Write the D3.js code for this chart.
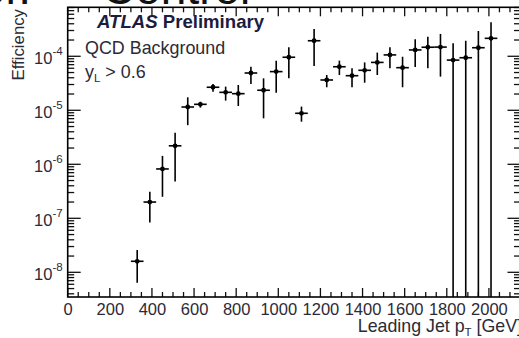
<!DOCTYPE html>
<html>
<head>
<meta charset="utf-8">
<script src="https://cdn.jsdelivr.net/npm/d3@7"></script>
<style>
  html, body { margin: 0; padding: 0; background: #fff; }
  svg { display: block; }
  text { font-family: "Liberation Sans", Arial, Helvetica, sans-serif; }
</style>
</head>
<body>
<svg id="chart" width="519" height="338"></svg>
<script>
// Leading-jet pT bin centres (GeV), 60 GeV wide bins
const ptCenters = [330, 390, 450, 510, 570, 630, 690, 750, 810, 870, 930, 990, 1050, 1110, 1170,
                   1230, 1290, 1350, 1410, 1470, 1530, 1590, 1650, 1710, 1770, 1830, 1890, 1950, 2010];
const binHalfWidth = 30;
// Efficiency per bin
const efficiency = [1.6e-8, 2.0e-7, 8.2e-7, 2.2e-6, 1.15e-5, 1.29e-5, 2.67e-5, 2.15e-5, 2.03e-5, 4.9e-5,
                    2.35e-5, 5.2e-5, 9.6e-5, 8.8e-6, 1.94e-4, 3.64e-5, 6.4e-5, 4.37e-5, 5.5e-5, 7.7e-5,
                    1.06e-4, 6.15e-5, 1.31e-4, 1.47e-4, 1.48e-4, 8.5e-5, 9.4e-5, 1.44e-4, 2.15e-4];
// Upper and lower edges of the error bars (0 = bar reaches down to zero)
const effHigh = [2.6e-8, 3.1e-7, 1.43e-6, 3.85e-6, 1.74e-5, 1.44e-5, 3.07e-5, 2.74e-5, 2.94e-5, 6.4e-5,
                 3.9e-5, 8.3e-5, 1.47e-4, 1.17e-5, 3.2e-4, 4.5e-5, 8.3e-5, 6.0e-5, 7.7e-5, 1.17e-4,
                 1.47e-4, 9.8e-5, 2.06e-4, 2.31e-4, 2.59e-4, 1.74e-4, 1.94e-4, 2.94e-4, 4.26e-4];
const effLow = [6.4e-9, 8.4e-8, 2.5e-7, 4.8e-7, 5.3e-6, 1.12e-5, 2.21e-5, 1.51e-5, 1.2e-5, 3.07e-5,
                7.1e-6, 2.12e-5, 3.9e-5, 6.15e-6, 6.6e-5, 2.67e-5, 4.5e-5, 2.67e-5, 3.24e-5, 4.5e-5,
                6.0e-5, 2.67e-5, 6.3e-5, 6.0e-5, 4.2e-5, 0, 0, 0, 0];

const xTicks = [0, 200, 400, 600, 800, 1000, 1200, 1400, 1600, 1800, 2000];
const yDecades = [-8, -7, -6, -5, -4];

const xDomain = [0, 2150];
const yDomain = [3.49e-9, 8.07e-4];

const svg = d3.select("#chart");
const frameLeft = 67.7, frameTop = 7.3, frameBottom = 297, frameRight = 520.5;

const x = d3.scaleLinear().domain(xDomain).range([frameLeft, frameRight]);
const y = d3.scaleLog().domain(yDomain).range([frameBottom, frameTop]).clamp(true);

const textColor = "#2c2a36";

// Heading above the frame, mostly outside the page
svg.append("text")
  .attr("y", 3.5)
  .attr("font-size", 46)
  .attr("fill", "#111")
  .call(t => {
    t.append("tspan").attr("x", -20).text("or.");
    t.append("tspan").attr("x", 102).text("Control");
  });

// Minor tick values
const xMinor = d3.range(0, 2151, 50).filter(v => v % 200 !== 0);
const yMinor = [];
for (let e = -9; e <= -4; e++) {
  for (let m = 2; m <= 9; m++) {
    const v = m * Math.pow(10, e);
    if (v >= yDomain[0] && v <= yDomain[1]) yMinor.push(v);
  }
}
const yMajor = yDecades.map(e => Math.pow(10, e));

const axes = svg.append("g").attr("stroke", "#111").attr("stroke-width", 1.3);

// Bottom and top ticks (pointing inward)
function xTickMarks(vals, len) {
  axes.selectAll(null).data(vals).join("line")
    .attr("x1", d => x(d)).attr("x2", d => x(d))
    .attr("y1", frameBottom).attr("y2", frameBottom - len);
  axes.selectAll(null).data(vals).join("line")
    .attr("x1", d => x(d)).attr("x2", d => x(d))
    .attr("y1", frameTop).attr("y2", frameTop + len);
}
xTickMarks(xTicks.filter(v => v <= xDomain[1]), 9);
xTickMarks(xMinor, 5);

// Left and right ticks (pointing inward)
function yTickMarks(vals, len) {
  axes.selectAll(null).data(vals).join("line")
    .attr("x1", frameLeft).attr("x2", frameLeft + len)
    .attr("y1", d => y(d)).attr("y2", d => y(d));
  axes.selectAll(null).data(vals).join("line")
    .attr("x1", frameRight).attr("x2", frameRight - len)
    .attr("y1", d => y(d)).attr("y2", d => y(d));
}
yTickMarks(yMajor, 13);
yTickMarks(yMinor, 6.5);

// Frame
svg.append("rect")
  .attr("x", frameLeft).attr("y", frameTop)
  .attr("width", frameRight - frameLeft).attr("height", frameBottom - frameTop)
  .attr("fill", "none").attr("stroke", "#000").attr("stroke-width", 1.6);

// X tick labels via a d3 axis (domain and tick lines hidden)
const xAxis = svg.append("g")
  .attr("transform", `translate(0,${frameBottom})`)
  .call(d3.axisBottom(x).tickValues(xTicks).tickSize(0).tickPadding(18).tickFormat(d3.format("d")));
xAxis.select(".domain").remove();
xAxis.selectAll("text")
  .attr("font-size", 16.5).attr("fill", textColor)
  .attr("font-family", "Liberation Sans, Arial, sans-serif")
  .attr("dy", 0);

// Y tick labels: 10 with a superscript exponent
const yAxis = svg.append("g")
  .attr("transform", `translate(${frameLeft},0)`)
  .call(d3.axisLeft(y).tickValues(yMajor).tickSize(0).tickPadding(5).tickFormat(() => ""));
yAxis.select(".domain").remove();
yAxis.selectAll(".tick text")
  .attr("font-size", 16.5).attr("fill", textColor)
  .attr("font-family", "Liberation Sans, Arial, sans-serif")
  .attr("dy", "0.42em")
  .each(function(d) {
    const t = d3.select(this);
    const e = Math.round(Math.log10(d));
    t.append("tspan").text("10");
    t.append("tspan").attr("font-size", 11.5).attr("dy", "-0.75em").text(String(e));
  });

// Axis titles
svg.append("text")
  .attr("x", 522).attr("y", 332)
  .attr("text-anchor", "end")
  .attr("font-size", 17.8).attr("fill", textColor)
  .call(t => {
    t.append("tspan").text("Leading Jet p");
    t.append("tspan").attr("font-size", 11.5).attr("dy", 4).text("T");
    t.append("tspan").attr("dy", -4).text(" [GeV]");
  });

svg.append("text")
  .attr("transform", "translate(24,9) rotate(-90)")
  .attr("text-anchor", "end")
  .attr("font-size", 16.8).attr("fill", textColor)
  .text("Efficiency");

// Labels inside the frame
svg.append("text")
  .attr("x", 97).attr("y", 28)
  .attr("font-size", 18.6).attr("font-weight", "bold").attr("fill", "#1c1c3e")
  .call(t => {
    t.append("tspan").attr("font-style", "italic").text("ATLAS");
    t.append("tspan").text(" Preliminary");
  });

svg.append("text")
  .attr("x", 85).attr("y", 54)
  .attr("font-size", 17.9).attr("fill", textColor)
  .text("QCD Background");

svg.append("text")
  .attr("x", 85).attr("y", 78)
  .attr("font-size", 17.9).attr("fill", textColor)
  .call(t => {
    t.append("tspan").text("y");
    t.append("tspan").attr("font-size", 11.5).attr("dy", 4).text("L");
    t.append("tspan").attr("dy", -4).text(" > 0.6");
  });

// Data points with error bars
const points = ptCenters.map((pt, i) => ({
  pt, eff: efficiency[i], hi: effHigh[i], lo: effLow[i]
}));

const marks = svg.append("g").attr("stroke", "#000").attr("stroke-width", 1.6);

marks.selectAll(".ybar").data(points).join("line")
  .attr("class", "ybar")
  .attr("x1", d => x(d.pt)).attr("x2", d => x(d.pt))
  .attr("y1", d => y(d.hi))
  .attr("y2", d => d.lo > 0 ? y(d.lo) : frameBottom);

marks.selectAll(".xbar").data(points).join("line")
  .attr("class", "xbar")
  .attr("x1", d => x(d.pt - binHalfWidth)).attr("x2", d => x(d.pt + binHalfWidth))
  .attr("y1", d => y(d.eff)).attr("y2", d => y(d.eff));

svg.append("g").selectAll("circle").data(points).join("circle")
  .attr("cx", d => x(d.pt)).attr("cy", d => y(d.eff))
  .attr("r", 2.4).attr("fill", "#000");
</script>
</body>
</html>
